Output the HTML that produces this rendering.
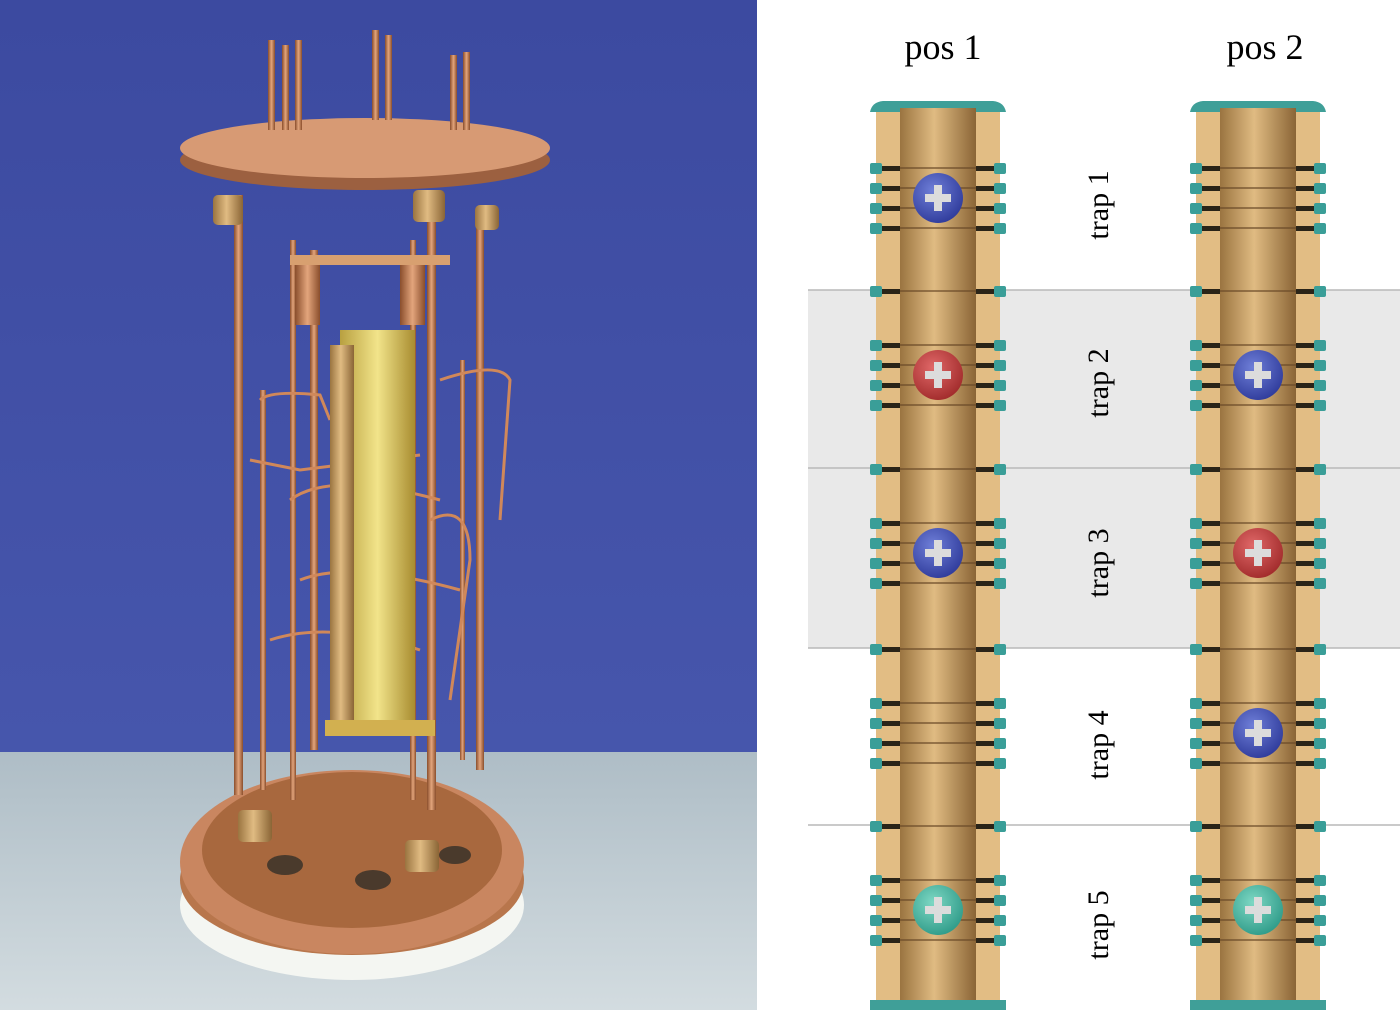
<!DOCTYPE html>
<html><head><meta charset="utf-8"><style>
html,body{margin:0;padding:0;width:1400px;height:1010px;overflow:hidden;background:#fff}
svg{display:block}
text{font-family:"Liberation Serif",serif}
</style></head><body>
<svg width="1400" height="1010" viewBox="0 0 1400 1010">
<defs>
<linearGradient id="bg" x1="0" y1="0" x2="0" y2="1"><stop offset="0" stop-color="#3c4aa0"/><stop offset="1" stop-color="#4a5ab0"/></linearGradient>
<linearGradient id="table" x1="0" y1="0" x2="0" y2="1"><stop offset="0" stop-color="#aebdc6"/><stop offset="1" stop-color="#d3dce0"/></linearGradient>
<linearGradient id="cu" x1="0" y1="0" x2="1" y2="0"><stop offset="0" stop-color="#8a4e2c"/><stop offset=".5" stop-color="#e3a57c"/><stop offset="1" stop-color="#8a4e2c"/></linearGradient>
<linearGradient id="yel" x1="0" y1="0" x2="1" y2="0"><stop offset="0" stop-color="#b8a040"/><stop offset=".5" stop-color="#f2e48a"/><stop offset="1" stop-color="#a88c30"/></linearGradient>
<linearGradient id="gold" x1="0" y1="0" x2="1" y2="0"><stop offset="0" stop-color="#9a7440"/><stop offset=".45" stop-color="#e0bb82"/><stop offset="1" stop-color="#8a6536"/></linearGradient>
<radialGradient id="ionb" cx=".4" cy=".35" r=".7"><stop offset="0" stop-color="#6f7fd8"/><stop offset="1" stop-color="#2e3a9a"/></radialGradient>
<radialGradient id="ionr" cx=".4" cy=".35" r=".7"><stop offset="0" stop-color="#e06868"/><stop offset="1" stop-color="#a02a2a"/></radialGradient>
<radialGradient id="iont" cx=".4" cy=".35" r=".7"><stop offset="0" stop-color="#7ed8c4"/><stop offset="1" stop-color="#2e9a88"/></radialGradient>
</defs>
<g>
<rect x="0" y="0" width="757" height="1010" fill="url(#bg)"/>
<rect x="0" y="752" width="757" height="258" fill="url(#table)"/>
<!-- base -->
<ellipse cx="352" cy="905" rx="172" ry="75" fill="#f4f6f2"/>
<ellipse cx="352" cy="880" rx="172" ry="75" fill="#b8764c"/>
<ellipse cx="352" cy="862" rx="172" ry="92" fill="#c98660"/>
<ellipse cx="352" cy="850" rx="150" ry="78" fill="#a8683e"/>
<!-- rods -->
<g fill="url(#cu)">
<rect x="234" y="195" width="9" height="600"/><rect x="427" y="210" width="9" height="600"/>
<rect x="476" y="210" width="8" height="560"/><rect x="290" y="240" width="6" height="560"/>
<rect x="410" y="240" width="6" height="560"/><rect x="310" y="250" width="8" height="500"/>
<rect x="260" y="390" width="6" height="400"/><rect x="460" y="360" width="5" height="400"/>
</g>
<g fill="none" stroke="#d0885a" stroke-width="3">
<path d="M260 400 Q270 390 320 395 L330 420"/><path d="M250 460 L300 470 L420 455"/>
<path d="M440 380 Q500 360 510 380 L500 520"/><path d="M290 500 Q330 470 440 500"/>
<path d="M300 580 Q350 560 460 590"/><path d="M270 640 Q330 620 420 650"/>
<path d="M430 520 Q470 500 470 560 L450 700"/>
</g>
<!-- central column -->
<rect x="340" y="330" width="75" height="390" fill="url(#yel)"/>
<rect x="330" y="345" width="24" height="380" fill="url(#gold)"/>
<rect x="290" y="255" width="160" height="10" fill="#d8a070"/>
<rect x="295" y="265" width="25" height="60" fill="url(#cu)"/><rect x="400" y="265" width="25" height="60" fill="url(#cu)"/>
<rect x="325" y="720" width="110" height="16" fill="#d2b050"/>
<!-- top flange -->
<ellipse cx="365" cy="160" rx="185" ry="30" fill="#9c6040"/>
<ellipse cx="365" cy="148" rx="185" ry="30" fill="#d79a74"/>
<g fill="url(#cu)"><rect x="268" y="40" width="7" height="90"/><rect x="282" y="45" width="7" height="85"/><rect x="295" y="40" width="7" height="90"/><rect x="372" y="30" width="7" height="90"/><rect x="385" y="35" width="7" height="85"/><rect x="450" y="55" width="7" height="75"/><rect x="463" y="52" width="7" height="78"/></g>
<g fill="url(#gold)"><rect x="213" y="195" width="30" height="30" rx="5"/><rect x="413" y="190" width="32" height="32" rx="5"/><rect x="475" y="205" width="24" height="25" rx="5"/><rect x="238" y="810" width="34" height="32" rx="5"/><rect x="405" y="840" width="34" height="32" rx="5"/></g>
<g fill="#4a3a2c"><ellipse cx="285" cy="865" rx="18" ry="10"/><ellipse cx="373" cy="880" rx="18" ry="10"/><ellipse cx="455" cy="855" rx="16" ry="9"/></g>
</g>
<g>
<rect x="808" y="290" width="592" height="358" fill="#e9e9e9"/>
<g stroke="#b9b9b9" stroke-width="1.5">
<line x1="808" y1="290" x2="1400" y2="290"/><line x1="808" y1="468" x2="1400" y2="468"/><line x1="808" y1="648" x2="1400" y2="648"/><line x1="808" y1="825" x2="1400" y2="825"/>
</g>
<g id="tubes"></g>
<text x="943" y="59" font-size="36" text-anchor="middle">pos 1</text>
<text x="1265" y="59" font-size="36" text-anchor="middle">pos 2</text>
<g font-size="30" text-anchor="middle">
<text transform="translate(1108,205) rotate(-90)">trap 1</text>
<text transform="translate(1108,383) rotate(-90)">trap 2</text>
<text transform="translate(1108,563) rotate(-90)">trap 3</text>
<text transform="translate(1108,745) rotate(-90)">trap 4</text>
<text transform="translate(1108,925) rotate(-90)">trap 5</text>
</g>
</g>
</svg>
<script>
const trapCenters=[198,375,553,733,910];
const boundaries=[290,468,648,825];
const pos1Ions=['b','r','b','',"t"];
const pos2Ions=['','b','r','b',"t"];
const NS='http://www.w3.org/2000/svg';
const g=document.getElementById('tubes');
function mk(t,a,p){const e=document.createElementNS(NS,t);for(const k in a)e.setAttribute(k,a[k]);(p||g).appendChild(e);return e;}
function tube(cx,ions,idx){
  const grp=mk('g',{});
  
  
  mk('rect',{x:cx-62,y:105,width:124,height:905,fill:'#e2bd84'},grp);
  mk('rect',{x:cx-38,y:108,width:76,height:902,fill:'url(#gold)'},grp);
  mk('path',{d:`M${cx-68} 112 Q${cx-66} 102 ${cx-55} 101 L${cx+55} 101 Q${cx+66} 102 ${cx+68} 112 L${cx+38} 112 L${cx+38} 108 L${cx-38} 108 L${cx-38} 112 Z`,fill:'#3f9f98'},grp);
  mk('rect',{x:cx-68,y:1000,width:136,height:10,fill:'#3f9f98'},grp);
  const tabs=[];
  trapCenters.forEach(c=>[-35,-15,5,25].forEach(o=>tabs.push(c+o)));
  boundaries.forEach(b=>tabs.push(b-4));
  tabs.forEach(y=>{
    [-1,1].forEach(s=>{
      mk('rect',{x:s<0?cx-68:cx+56,y:y,width:12,height:11,rx:2,fill:'#3a9e98'},grp);
      mk('rect',{x:s<0?cx-56:cx+38,y:y+3,width:18,height:5,fill:'#2a2418'},grp);
    });
    mk('line',{x1:cx-38,y1:y+5,x2:cx+38,y2:y+5,stroke:'#6a4a28','stroke-width':1.2},grp);
  });
  ions.forEach((k,i)=>{
    if(!k)return;
    const cy=trapCenters[i];
    const ion=mk('g',{},grp);
    
    
    mk('circle',{cx:cx,cy:cy,r:25,fill:k==='b'?'url(#ionb)':k==='r'?'url(#ionr)':'url(#iont)'},ion);
    mk('rect',{x:cx-13,y:cy-4,width:26,height:8,fill:'#dcdcdc'},ion);
    mk('rect',{x:cx-4,y:cy-13,width:8,height:26,fill:'#dcdcdc'},ion);
  });
}
tube(938,pos1Ions,1);
tube(1258,pos2Ions,2);
</script>
</body></html>
